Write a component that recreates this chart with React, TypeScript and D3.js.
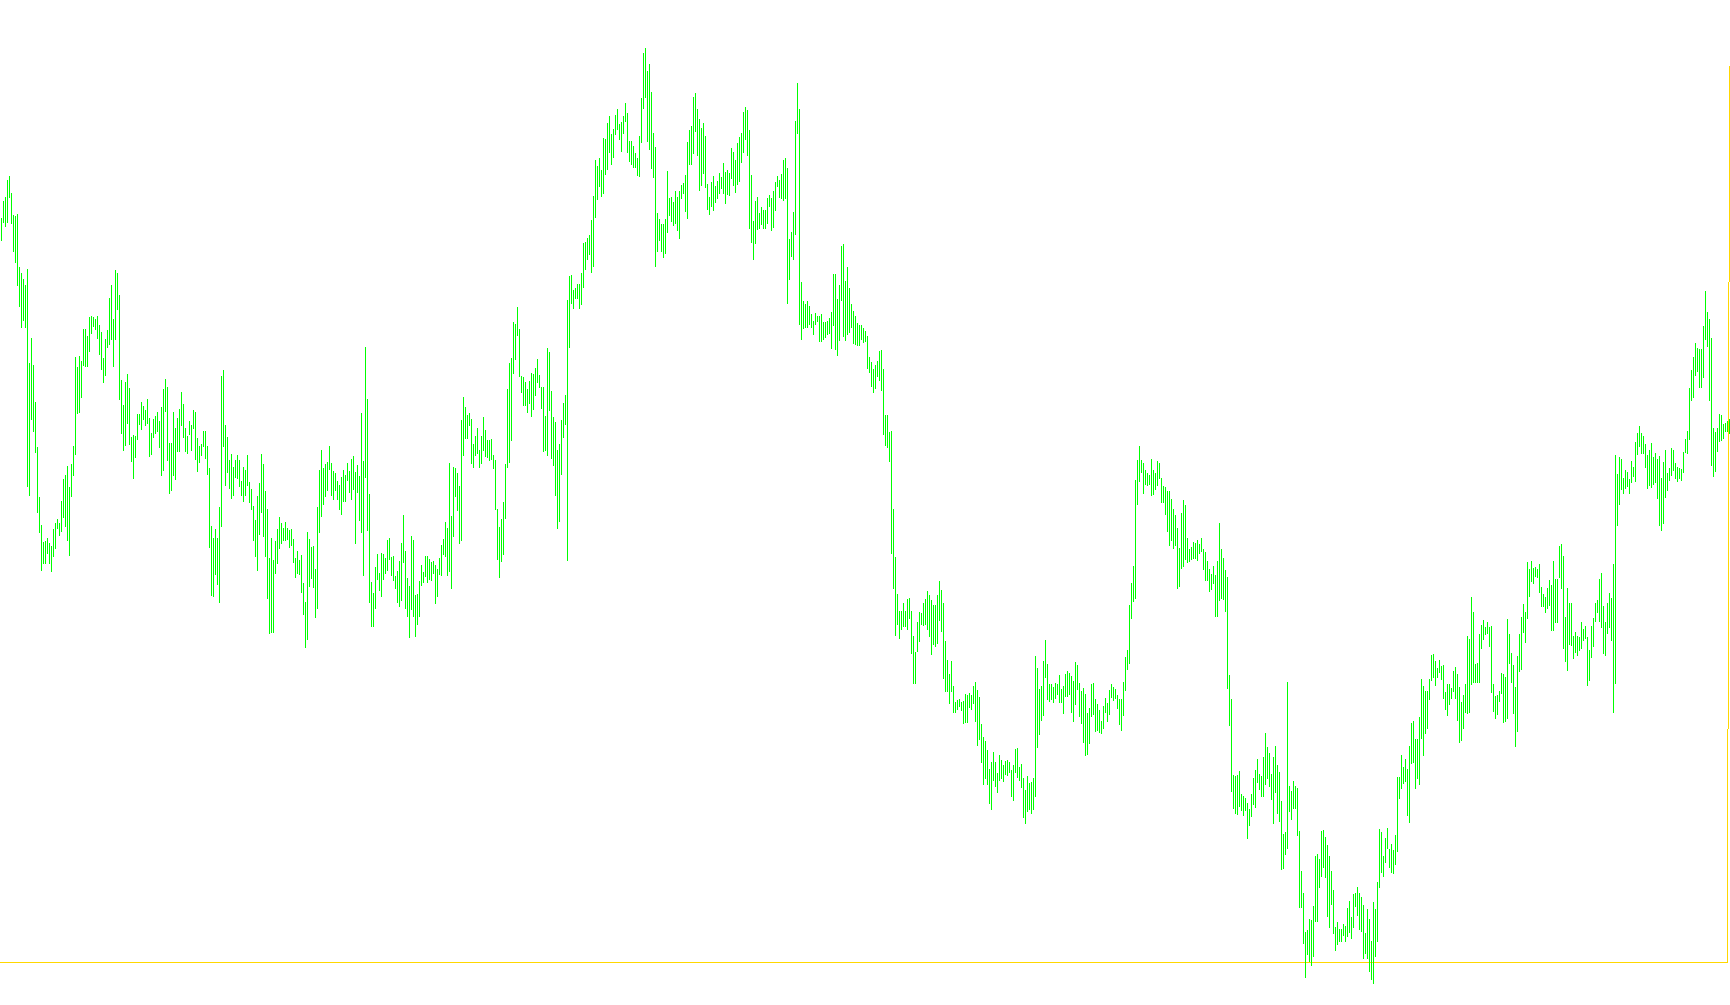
import React from 'react';
import * as d3 from 'd3';

// Bar highs (price points), one per bar, left to right
const highs: number[] = [
  783,800,804,821,825,808,786,785,787,734,728,722,716,732,638,663,636,599,554,504,
  476,459,460,463,458,455,472,478,482,478,500,522,526,535,514,537,555,644,634,645,
  640,672,672,665,684,685,684,682,685,676,669,643,662,671,703,716,682,731,728,706,
  621,596,619,627,613,564,566,565,587,587,599,595,591,602,583,568,582,585,589,580,
  594,612,622,614,558,558,589,573,583,592,609,597,573,565,580,576,591,589,563,555,
  557,570,570,555,533,475,463,472,463,494,625,631,576,564,541,547,534,541,546,541,
  520,534,531,
  546,519,512,495,481,505,518,547,537,510,492,443,463,441,460,472,484,478,473,479,
  473,471,472,462,443,450,441,446,418,399,469,462,454,455,432,494,531,551,533,537,
  539,555,538,530,528,520,516,524,531,526,538,530,542,545,529,536,525,588,540,654,
  602,507,419,408,434,447,428,448,447,443,461,463,444,445,425,430,440,458,486,450,
  423,415,465,461,406,407,420,436,429,445,445,442,439,440,436,432,443,456,462,479,
  473,538,485,534,533,528,515,581,604,594,586,588,582,557,565,573,551,565,584,571,
  561,561,562,546,
  541,492,474,482,499,537,612,638,643,679,677,694,672,625,624,619,612,620,628,627,
  633,642,626,614,614,585,653,649,610,584,579,551,557,581,598,606,701,725,726,711,
  713,717,717,728,758,759,763,766,781,805,841,835,843,831,863,862,878,885,867,872,
  886,892,877,879,885,898,888,860,860,855,848,843,865,903,948,953,930,937,909,868,
  854,788,782,777,777,782,830,803,804,799,810,804,810,816,818,826,859,871,875,904,
  908,892,882,873,878,865,817,804,819,825,815,820,828,824,838,829,831,828,853,849,
  841,858,864,
  868,889,894,891,871,826,780,800,804,788,794,791,791,803,806,803,810,819,825,821,
  827,841,843,833,762,769,789,880,918,892,719,700,697,700,695,687,680,688,685,685,
  687,679,679,680,683,689,727,727,702,716,755,757,720,734,713,697,690,685,678,676,
  676,673,670,665,644,639,632,636,640,650,651,632,586,586,569,570,492,444,407,390,
  390,398,390,402,403,390,365,349,379,389,388,398,402,410,406,401,396,396,406,420,
  411,398,360,341,327,340,315,299,301,302,299,300,307,306,308,306,315,319,311,304,
  277,264,260,251,
  232,239,249,239,228,246,241,236,240,241,239,231,236,252,253,234,237,223,211,225,
  218,219,223,345,333,312,315,340,361,337,317,317,314,318,317,326,312,315,327,330,
  328,325,320,339,336,318,310,313,307,288,293,317,318,302,297,291,280,295,303,298,
  311,317,314,312,306,302,302,319,344,351,396,418,435,521,541,555,541,538,531,528,
  526,542,531,528,540,538,523,515,514,510,510,502,492,486,473,453,488,501,496,463,
  452,454,459,458,461,457,463,452,449,440,432,427,435,426,440,478,452,443,431,424,
  326,302,226,
  225,226,230,207,205,203,198,192,207,223,231,242,227,225,244,268,254,248,227,244,
  255,236,229,200,167,169,319,215,210,220,215,213,170,130,108,69,71,82,81,95,
  145,147,142,170,171,164,156,145,130,111,74,79,72,72,77,75,93,100,84,107,
  108,114,108,104,96,68,92,82,60,99,92,119,172,169,145,163,173,152,157,151,
  166,224,224,246,234,242,232,255,278,280,262,262,284,322,315,310,310,322,346,347,
  340,333,341,335,336,309,317,317,313,330,334,327,314,299,306,317,365,362,404,389,
  337,338,367,376,
  381,374,379,374,375,317,305,306,310,328,327,324,382,367,348,336,314,345,367,384,
  397,389,439,432,440,433,434,432,437,414,407,404,413,421,416,440,422,422,455,457,
  445,384,413,398,398,365,369,365,364,379,372,375,364,351,375,383,398,401,422,428,
  395,379,398,408,403,437,546,527,544,542,523,531,529,522,540,534,559,568,575,568,
  565,557,546,551,558,544,548,542,545,523,539,551,528,533,553,551,538,534,533,532,
  549,562,570,613,631,644,658,653,652,652,675,710,689,682,663,573,569,573,587,586,
  577,578,580,582,
];

// Bar lows (price points), one per bar, left to right
const lows: number[] = [
  760,778,774,778,803,777,749,738,715,694,673,680,673,514,505,581,569,548,488,468,
  430,437,437,447,437,429,444,452,472,465,469,483,474,460,445,504,525,546,587,588,
  603,635,634,634,649,667,674,671,662,646,631,618,625,653,656,661,634,661,691,601,
  567,550,555,577,556,539,522,543,561,576,571,581,575,577,544,546,563,567,569,553,
  525,530,589,540,507,510,525,521,549,549,575,563,549,547,566,550,572,541,529,538,
  545,554,542,526,453,405,404,426,416,398,474,554,515,528,512,502,505,523,522,514,
  505,499,505,
  515,498,491,460,444,430,466,488,464,444,402,367,368,368,427,437,452,457,460,460,
  461,453,455,438,423,427,426,408,386,353,361,414,422,413,383,392,468,484,496,504,
  510,531,505,501,510,501,491,486,499,499,520,508,501,511,457,508,480,468,425,523,
  470,398,374,374,392,421,410,404,421,427,430,441,425,420,412,398,394,400,438,392,
  384,363,391,384,364,376,384,415,418,424,418,421,420,427,397,404,426,425,446,444,
  425,429,412,464,504,490,457,460,545,562,562,575,537,533,545,547,533,537,550,544,
  543,540,541,532,
  491,441,423,439,446,482,533,538,560,627,641,665,624,608,595,595,588,597,584,591,
  605,618,613,592,549,550,545,590,542,535,505,472,479,526,563,576,440,653,697,692,
  702,702,692,696,713,731,741,746,728,734,783,801,814,804,807,826,831,848,836,843,
  866,871,861,849,867,879,848,839,836,833,833,825,824,858,892,903,859,851,832,823,
  734,749,760,749,743,747,768,785,779,775,777,770,762,802,807,789,782,836,836,847,
  869,845,810,815,827,813,791,786,794,790,798,802,807,812,807,797,806,805,822,815,
  808,816,819,
  838,848,861,845,772,758,741,757,771,772,776,772,772,777,794,770,773,790,814,803,
  802,800,802,697,721,744,741,766,867,676,661,672,673,673,676,673,666,676,679,659,
  659,661,663,666,667,652,675,651,645,660,700,664,660,666,668,673,657,656,655,655,
  661,658,659,632,628,614,608,612,624,620,610,566,555,553,539,447,412,365,376,362,
  371,374,374,371,382,347,317,317,349,359,376,375,376,371,364,346,356,354,357,380,
  369,322,309,309,297,309,288,288,291,294,290,277,278,278,293,291,297,279,255,261,
  238,216,222,216,
  197,191,220,214,208,220,222,219,226,225,228,204,200,228,223,220,213,183,177,189,
  191,187,191,204,253,266,280,285,323,301,299,301,298,302,306,298,298,287,304,304,
  306,288,279,296,311,284,277,258,245,246,257,284,286,269,270,268,267,272,288,279,
  286,303,300,302,292,276,270,285,310,331,337,382,399,402,496,519,528,507,516,515,
  516,505,506,511,515,522,498,498,486,469,455,460,452,455,412,414,432,434,441,438,
  439,441,442,442,440,447,449,431,420,420,409,411,417,384,384,400,402,401,389,312,
  275,209,192,
  187,186,194,190,185,190,162,175,184,196,193,218,211,204,204,216,222,214,201,177,
  208,187,179,131,132,146,152,189,181,192,192,165,93,93,57,23,46,39,35,44,
  79,79,113,124,133,123,84,73,96,67,50,56,59,59,65,59,64,68,62,73,
  94,85,71,69,42,47,42,29,21,17,44,59,113,128,124,138,152,133,128,127,
  136,149,202,212,217,219,185,178,237,238,212,222,216,262,245,267,272,301,320,323,
  315,323,328,321,302,291,285,296,302,309,302,280,258,260,272,288,287,288,316,318,
  318,318,318,352,
  361,366,367,354,308,289,282,286,299,307,278,279,282,337,318,287,254,269,329,331,
  368,358,382,404,419,417,424,423,408,394,394,388,392,395,370,370,378,378,423,412,
  352,339,330,356,355,342,348,345,350,352,360,362,315,320,343,354,379,388,379,373,
  347,345,367,373,360,288,317,475,496,511,507,512,514,507,518,524,519,546,554,547,
  547,533,512,515,513,516,518,502,475,470,477,503,510,520,525,530,522,519,522,520,
  528,548,547,561,600,603,625,629,613,613,623,661,654,600,535,524,529,549,559,560,
  562,569,569,567,
];

// Horizontal price level and the slanted marker line (bar index, price)
const levelPrice = 38;
const markerBars = [864, 863];
const markerPrices = [934, 38];

const BAR_COLOR = '#00ff00';
const LEVEL_COLOR = '#ffd700';

export default function App() {
  const W = 1730;
  const H = 1005;
  const n = Math.min(highs.length, lows.length);

  // 2 px per bar
  const x = d3.scaleLinear().domain([0, 1]).range([1.5, 3.5]);
  const y = d3.scaleLinear().domain([0, 1000]).range([1000.5, 0.5]);

  const bars = d3.range(n).map((i) => ({ i, h: highs[i], l: lows[i] }));

  const markerPath = d3.line<number>()
    .x((_, k) => x(markerBars[k]))
    .y((_, k) => y(markerPrices[k]))(markerBars);

  const levelY = y(levelPrice);
  const levelEnd = x(markerBars[1]) + 0.5;

  return (
    <div style={{ position: 'absolute', left: 0, top: 0, width: W, height: H, background: '#ffffff' }}>
      <svg width={W} height={H} style={{ display: 'block' }}>
        <rect x={0} y={0} width={W} height={H} fill="#ffffff" />
        <line x1={0} x2={levelEnd} y1={levelY} y2={levelY} stroke={LEVEL_COLOR} strokeWidth={1} shapeRendering="crispEdges" />
        <path d={markerPath || ''} stroke={LEVEL_COLOR} strokeWidth={1} fill="none" shapeRendering="crispEdges" />
        <g stroke={BAR_COLOR} strokeWidth={1} shapeRendering="crispEdges">
          {bars.map((b) => (
            <line key={b.i} x1={x(b.i)} x2={x(b.i)} y1={y(b.h)} y2={y(b.l)} />
          ))}
        </g>
      </svg>
    </div>
  );
}
